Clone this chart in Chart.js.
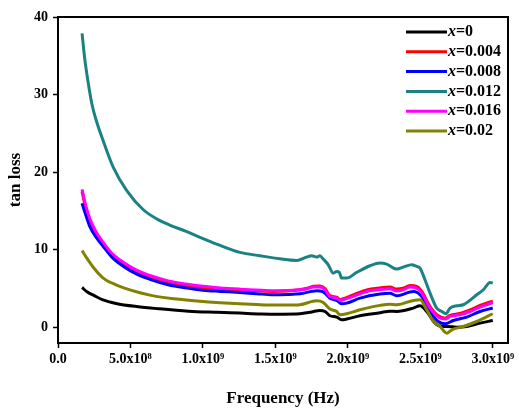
<!DOCTYPE html>
<html>
<head>
<meta charset="utf-8">
<script src="https://cdn.jsdelivr.net/npm/chart.js@4.4.0/dist/chart.umd.min.js"></script>
<style>
  html, body { margin: 0; padding: 0; background: #fff; }
  #wrap { width: 519px; height: 416px; }
</style>
</head>
<body>
<div id="wrap"><canvas id="lossChart" width="519" height="416"></canvas></div>
<script>
// frequency in GHz (1e9 Hz), tan loss values
const seriesNames = ['0', '0.004', '0.008', '0.012', '0.016', '0.02'];
const seriesColors = ['#000000', '#ff0000', '#0000ff', '#1a8282', '#ff00ff', '#828200'];

const freqX0 = [0.166, 0.2, 0.25, 0.31, 0.4, 0.541, 0.7, 0.9, 1.1, 1.255, 1.4, 1.55, 1.669, 1.75, 1.807, 1.842, 1.876, 1.923, 1.957, 1.992, 2.084, 2.222, 2.29, 2.337, 2.452, 2.498, 2.544, 2.602, 2.648, 2.682, 2.751, 2.82, 2.912, 3.0];
const lossX0 = [5.15, 4.6, 4.1, 3.55, 3.1, 2.7, 2.4, 2.1, 1.95, 1.85, 1.75, 1.72, 1.77, 2.0, 2.19, 2.06, 1.51, 1.34, 0.99, 1.08, 1.51, 1.9, 2.1, 2.06, 2.5, 2.8, 2.06, 0.56, 0.13, 0.13, 0.04, 0.13, 0.56, 0.9];

const freqX004 = [0.166, 0.19, 0.22, 0.26, 0.31, 0.37, 0.45, 0.541, 0.65, 0.76, 0.88, 1.0, 1.12, 1.255, 1.37, 1.485, 1.58, 1.669, 1.72, 1.761, 1.807, 1.842, 1.876, 1.923, 1.945, 1.968, 2.037, 2.13, 2.222, 2.29, 2.337, 2.38, 2.429, 2.475, 2.51, 2.567, 2.624, 2.671, 2.705, 2.774, 2.843, 2.912, 3.0];
const lossX004 = [17.5, 15.5, 13.7, 12.1, 10.7, 9.35, 8.15, 7.15, 6.4, 5.8, 5.4, 5.12, 4.95, 4.82, 4.72, 4.65, 4.7, 4.85, 5.05, 5.3, 5.35, 5.0, 4.1, 3.9, 3.6, 3.7, 4.2, 4.85, 5.1, 5.2, 4.95, 5.05, 5.4, 5.3, 4.65, 2.7, 1.5, 1.2, 1.55, 1.8, 2.25, 2.85, 3.4];

const freqX008 = [0.166, 0.19, 0.22, 0.26, 0.31, 0.37, 0.45, 0.541, 0.65, 0.76, 0.88, 1.0, 1.12, 1.255, 1.37, 1.485, 1.58, 1.669, 1.785, 1.83, 1.876, 1.923, 1.957, 1.992, 2.084, 2.222, 2.29, 2.337, 2.452, 2.51, 2.567, 2.624, 2.671, 2.728, 2.82, 2.912, 3.0];
const lossX008 = [16.0, 14.6, 13.0, 11.7, 10.5, 9.1, 7.9, 6.9, 6.1, 5.5, 5.1, 4.8, 4.65, 4.51, 4.35, 4.21, 4.25, 4.34, 4.73, 4.6, 3.78, 3.48, 3.05, 3.14, 3.78, 4.3, 4.4, 4.1, 4.64, 4.0, 2.06, 0.77, 0.47, 0.9, 1.34, 2.06, 2.5];

const freqX012 = [0.166, 0.184, 0.207, 0.235, 0.265, 0.311, 0.38, 0.472, 0.587, 0.69, 0.771, 0.88, 0.98, 1.1, 1.255, 1.393, 1.531, 1.646, 1.715, 1.75, 1.785, 1.807, 1.83, 1.865, 1.899, 1.923, 1.941, 1.957, 1.992, 2.061, 2.153, 2.222, 2.268, 2.337, 2.383, 2.44, 2.475, 2.498, 2.532, 2.567, 2.613, 2.648, 2.677, 2.705, 2.751, 2.797, 2.832, 2.889, 2.935, 2.981, 3.0];
const lossX012 = [37.9, 34.7, 31.7, 28.7, 26.6, 24.1, 20.7, 17.7, 15.2, 13.9, 13.2, 12.4, 11.6, 10.7, 9.67, 9.24, 8.85, 8.64, 9.07, 9.24, 9.07, 9.24, 8.81, 8.08, 7.0, 7.2, 7.09, 6.36, 6.36, 7.09, 7.95, 8.3, 8.17, 7.52, 7.78, 8.08, 7.86, 7.65, 6.15, 4.43, 2.5, 2.06, 1.77, 2.5, 2.8, 2.93, 3.35, 4.21, 4.86, 5.8, 5.72];

const freqX016 = [0.166, 0.19, 0.22, 0.26, 0.31, 0.37, 0.45, 0.541, 0.65, 0.76, 0.88, 1.0, 1.12, 1.255, 1.37, 1.485, 1.58, 1.669, 1.72, 1.761, 1.807, 1.842, 1.876, 1.923, 1.945, 1.968, 2.037, 2.13, 2.222, 2.29, 2.337, 2.38, 2.429, 2.475, 2.51, 2.567, 2.624, 2.671, 2.705, 2.774, 2.843, 2.912, 3.0];
const lossX016 = [17.8, 15.8, 14.0, 12.4, 11.0, 9.6, 8.4, 7.4, 6.6, 6.0, 5.6, 5.3, 5.1, 4.94, 4.83, 4.73, 4.75, 4.86, 5.0, 5.2, 5.2, 4.86, 4.0, 3.78, 3.48, 3.57, 4.0, 4.64, 4.9, 5.0, 4.7, 4.85, 5.2, 5.07, 4.43, 2.5, 1.34, 1.08, 1.42, 1.64, 2.06, 2.63, 3.22];

const freqX02 = [0.166, 0.2, 0.25, 0.31, 0.4, 0.541, 0.65, 0.8, 1.0, 1.12, 1.255, 1.37, 1.485, 1.58, 1.669, 1.785, 1.83, 1.876, 1.923, 1.945, 1.992, 2.084, 2.222, 2.29, 2.337, 2.452, 2.498, 2.544, 2.59, 2.636, 2.682, 2.717, 2.797, 2.889, 3.0];
const lossX02 = [9.9, 8.9, 7.6, 6.4, 5.5, 4.6, 4.1, 3.7, 3.35, 3.2, 3.05, 2.95, 2.88, 2.88, 2.93, 3.44, 3.22, 2.37, 2.06, 1.64, 1.77, 2.28, 2.85, 3.0, 2.93, 3.48, 3.57, 2.28, 0.77, 0.13, -0.73, -0.3, 0.13, 0.77, 1.77];

const xTicks = [0, 0.5, 1.0, 1.5, 2.0, 2.5, 3.0];
const xTickLabels = ['0.0', '5.0x10\u2078', '1.0x10\u2079', '1.5x10\u2079', '2.0x10\u2079', '2.5x10\u2079', '3.0x10\u2079'];
const yTicks = [0, 10, 20, 30, 40];

const freqs = [freqX0, freqX004, freqX008, freqX012, freqX016, freqX02];
const losses = [lossX0, lossX004, lossX008, lossX012, lossX016, lossX02];

const SERIF = '"Liberation Serif", "Times New Roman", serif';

const datasets = seriesNames.map((name, i) => ({
    label: 'x=' + name,
    data: freqs[i].map((f, k) => ({ x: f, y: losses[i][k] })),
    borderColor: seriesColors[i],
    backgroundColor: seriesColors[i],
    borderWidth: 3,
    pointRadius: 0,
    cubicInterpolationMode: 'monotone',
    fill: false,
    order: seriesNames.length - i, // later series on top, as in the original
}));

// frame round the plot and the legend with an italic x
const framePlugin = {
    id: 'frame',
    afterDatasetsDraw(chart) {
        const { ctx, chartArea: a } = chart;
        ctx.save();
        ctx.strokeStyle = '#000';
        ctx.lineWidth = 2;
        ctx.strokeRect(a.left, a.top, a.right - a.left, a.bottom - a.top);

        const lineX0 = a.right - 102;
        const lineX1 = a.right - 61;
        let y = a.top + 15;
        chart.data.datasets.forEach((ds) => {
            ctx.strokeStyle = ds.borderColor;
            ctx.lineWidth = 3;
            ctx.beginPath();
            ctx.moveTo(lineX0, y);
            ctx.lineTo(lineX1, y);
            ctx.stroke();

            ctx.fillStyle = '#000';
            ctx.textBaseline = 'middle';
            ctx.font = 'italic bold 16px ' + SERIF;
            ctx.fillText('x', lineX1 + 1, y);
            const w = ctx.measureText('x').width;
            ctx.font = 'bold 16px ' + SERIF;
            ctx.fillText(ds.label.slice(1), lineX1 + 1 + w, y);
            y += 19.8;
        });
        ctx.restore();
    },
};

new Chart(document.getElementById('lossChart'), {
    type: 'line',
    data: { datasets },
    options: {
        responsive: false,
        animation: false,
        layout: { padding: { top: 17, right: 11, left: 0, bottom: 0 } },
        plugins: {
            legend: { display: false },
            tooltip: { enabled: false },
        },
        scales: {
            x: {
                type: 'linear',
                min: 0,
                max: 3.105,
                afterBuildTicks: (scale) => {
                    scale.ticks = xTicks.map((v) => ({ value: v }));
                },
                afterFit: (scale) => { scale.height = 73; },
                ticks: {
                    color: '#000',
                    padding: 3,
                    maxRotation: 0,
                    font: { family: SERIF, size: 14, weight: 'bold' },
                    callback: (v) => {
                        const idx = xTicks.indexOf(v);
                        return idx >= 0 ? xTickLabels[idx] : '';
                    },
                },
                grid: {
                    drawOnChartArea: false,
                    drawTicks: true,
                    tickLength: 5,
                    tickColor: '#000',
                    tickWidth: 1.5,
                },
                border: { display: true, color: '#000', width: 2 },
                title: {
                    display: true,
                    text: 'Frequency (Hz)',
                    color: '#000',
                    padding: { top: 0, bottom: 7 },
                    font: { family: SERIF, size: 17, weight: 'bold' },
                },
            },
            y: {
                type: 'linear',
                min: -2,
                max: 40,
                afterBuildTicks: (scale) => {
                    scale.ticks = yTicks.map((v) => ({ value: v }));
                },
                afterFit: (scale) => { scale.width = 58; },
                ticks: {
                    color: '#000',
                    padding: 5,
                    font: { family: SERIF, size: 14, weight: 'bold' },
                    callback: (v) => String(v),
                },
                grid: {
                    drawOnChartArea: false,
                    drawTicks: true,
                    tickLength: 5,
                    tickColor: '#000',
                    tickWidth: 1.5,
                },
                border: { display: true, color: '#000', width: 2 },
                title: {
                    display: true,
                    text: 'tan loss',
                    color: '#000',
                    padding: { top: 5, bottom: 0 },
                    font: { family: SERIF, size: 17, weight: 'bold' },
                },
            },
        },
    },
    plugins: [framePlugin],
});
</script>
</body>
</html>
